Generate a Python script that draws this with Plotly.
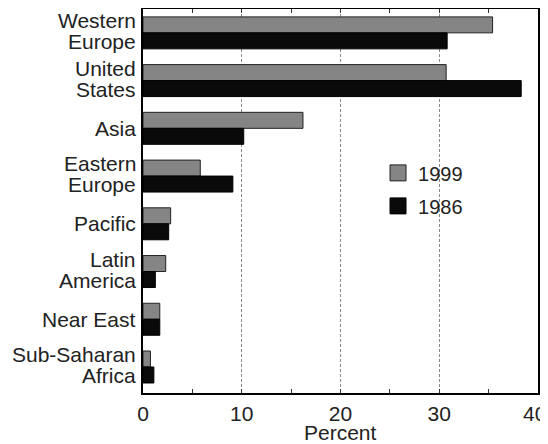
import plotly.graph_objects as go

regions = ["Western<br>Europe", "United<br>States", "Asia", "Eastern<br>Europe",
           "Pacific", "Latin<br>America", "Near East", "Sub-Saharan<br>Africa"]
pct_1999 = [35.4, 30.7, 16.2, 5.8, 2.8, 2.3, 1.7, 0.75]
pct_1986 = [30.8, 38.3, 10.2, 9.1, 2.6, 1.25, 1.7, 1.1]
x_ticks = [0, 10, 20, 30, 40]
x_title = "Percent"

FONT = "Liberation Sans, Arial, Helvetica, sans-serif"
TXT = "#222"
GRAY = "#858585"
BLACK = "#0a0a0a"

# the last tick label is drawn as an annotation, nudged left to stay on the page
tick_text = [str(v) for v in x_ticks]
tick_text[-1] = ""

fig = go.Figure()
fig.add_trace(go.Bar(y=regions, x=pct_1999, orientation="h", name="1999",
                     marker=dict(color=GRAY, line=dict(color="#222", width=1)),
                     showlegend=False))
fig.add_trace(go.Bar(y=regions, x=pct_1986, orientation="h", name="1986",
                     marker=dict(color=BLACK, line=dict(color="#000", width=1)),
                     showlegend=False))
# legend-only entries with larger square swatches
fig.add_trace(go.Scatter(x=[None], y=[None], mode="markers", name="1999",
                         legendgroup="a",
                         marker=dict(symbol="square", size=19, color=GRAY,
                                     line=dict(color="#222", width=1))))
fig.add_trace(go.Scatter(x=[None], y=[None], mode="markers", name="1986",
                         legendgroup="b",
                         marker=dict(symbol="square", size=19, color=BLACK,
                                     line=dict(color="#000", width=1))))

# category labels with tight line spacing (one annotation per text line)
for cat in regions:
    lines = cat.split("<br>")
    shifts = [0] if len(lines) == 1 else [12.5, -8.5]
    for txt, sh in zip(lines, shifts):
        fig.add_annotation(x=0, xref="paper", xanchor="right", xshift=-5,
                           y=cat, yref="y", yanchor="middle", yshift=sh,
                           text=txt, showarrow=False,
                           font=dict(family=FONT, size=21, color=TXT))

# last x tick label
fig.add_annotation(x=x_ticks[-1], xref="x", xanchor="right", xshift=10,
                   y=0, yref="paper", yanchor="middle", yshift=-20,
                   text=str(x_ticks[-1]), showarrow=False,
                   font=dict(family=FONT, size=21, color=TXT))

# x-axis title
fig.add_annotation(x=0.5, xref="paper", y=0, yref="paper", yanchor="middle",
                   yshift=-39, text=x_title, showarrow=False,
                   font=dict(family=FONT, size=21, color=TXT))

# page body has an 8px margin: figure spans 8..548 x 8..444 on screen
fig.update_layout(
    width=540, height=436,
    margin=dict(l=135, r=10, t=1, b=51, autoexpand=False),
    paper_bgcolor="white", plot_bgcolor="white",
    font=dict(family=FONT, size=21, color=TXT),
    barmode="group", bargap=0.33, bargroupgap=0,
    legend=dict(x=0.595, y=0.624, xanchor="left", yanchor="top",
                traceorder="grouped", tracegroupgap=4,
                bgcolor="rgba(0,0,0,0)", font=dict(size=20)),
    xaxis=dict(range=[0, 40], tickvals=x_ticks, ticktext=tick_text,
               ticks="inside", ticklen=4,
               tickcolor="#333", automargin=False, ticklabelstandoff=1,
               minor=dict(dtick=5, ticks="inside", ticklen=4, tickcolor="#333",
                          showgrid=False),
               showgrid=True, gridcolor="#8a8a8a", griddash="3px,2px", gridwidth=1,
               showline=True, linecolor="black", linewidth=2, mirror="ticks",
               zeroline=False, tickfont=dict(size=21)),
    yaxis=dict(autorange="reversed", showline=True, linecolor="black",
               linewidth=2, mirror=True, ticks="", showgrid=False,
               showticklabels=False, automargin=False),
)

fig.write_html("out.html")
